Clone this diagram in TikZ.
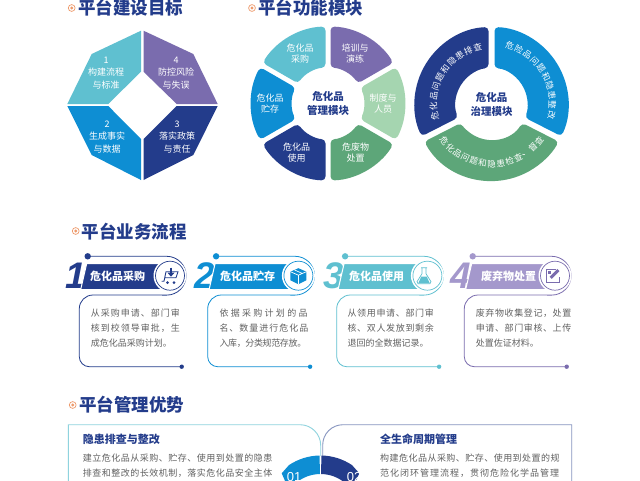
\documentclass[tikz,border=0pt]{standalone}
\usepackage{fontspec}
\setmainfont{Noto Sans CJK SC}
\newfontfamily\numfont{Liberation Sans}
\definecolor{cnavy}{HTML}{233C8B}
\definecolor{cblue}{HTML}{0E8ED3}
\definecolor{cteal}{HTML}{5FC0D0}
\definecolor{cpurple}{HTML}{7A6CAE}
\definecolor{cpurplelt}{HTML}{A498CC}
\definecolor{cgreen}{HTML}{5DA679}
\definecolor{cgreenlt}{HTML}{A5D5B0}
\definecolor{corange}{HTML}{EE9A6C}
\tikzset{
    headtxt/.style={anchor=west,inner sep=0,text=cnavy,font=\fontsize{17.5}{20}\selectfont\bfseries},
    whitetxt/.style={inner sep=0,text=white,font=\fontsize{9}{11}\selectfont},
    curvetxt/.style={inner sep=0,text=white,font=\fontsize{8.5}{10}\selectfont},
    hubtxt/.style={inner sep=0,text=cnavy,font=\fontsize{10.5}{14}\selectfont\bfseries,align=center},
    bandtxt/.style={anchor=west,inner sep=0,text=white,font=\fontsize{11}{13}\selectfont\bfseries},
    bodytxt/.style={anchor=west,inner sep=0,text=black!62,font=\fontsize{9}{11}\selectfont},
    subtxt/.style={anchor=west,inner sep=0,text=cnavy,font=\fontsize{11}{13}\selectfont\bfseries},
    numtxt/.style={inner sep=0,font=\fontsize{37}{37}\selectfont\numfont\bfseries\itshape},
}
\newcommand\spaced[2]{{\addfontfeature{LetterSpace=#1}#2}}
\newcommand\headmark[2]{
    \draw[corange,line width=.7](#1,#2)circle(3.4);
    \fill[corange](#1,#2)circle(1.6);
}
\newcommand\ringpart[6]{
    \pgfmathsetmacro\oa{#1+#6/#3*57.3}
    \pgfmathsetmacro\ob{#2-#6/#3*57.3}
    \pgfmathsetmacro\ia{#1+#6/#4*57.3}
    \pgfmathsetmacro\ib{#2-#6/#4*57.3}
    \fill[#5,rounded corners=4pt](\oa:#3)arc(\oa:\ob:#3)--(\ib:#4)arc(\ib:\ia:#4)--cycle;
}
\newcommand\flowcard[4]{
    \node[numtxt,text=#3](n#4) at (76,-276){#4};
    \fill[#3,draw=white,line width=1](80.7,-289.5)--(86.7,-263.5)--(165,-263.5)--(165,-289.5)--cycle;
    \draw[#2,line width=.8](87.7,-256.3)--(166.7,-256.3)arc(90:-90:19.4)--(93,-295)arc(90:180:13.7)--(79.3,-356.7)arc(180:270:10)--(181.7,-366.7);
    \fill[#3](87.7,-256.3)circle(3.2);
    \fill[#2](181.7,-366.7)circle(2.2);
    \fill[white](170,-275.7)circle(16.5);
    \draw[#2,line width=.7](170,-275.7)circle(14.5);
}
\begin{document}
\begin{tikzpicture}[x=1pt,y=1pt]
    \useasboundingbox(0,0)rectangle(640,-480);
    \fill[white](0,0)rectangle(640,-480);

    \headmark{71.7}{-8}
    \node[headtxt](h1) at (78,-8){平台建设目标};
    \fill[cteal](141,-30.7)--(91.7,-54)--(67.3,-104)--(108.3,-104)--(141,-71.7)--cycle;
    \fill[cpurple](143.5,-30.7)--(193.3,-54)--(217.7,-104)--(176.7,-104)--(143.5,-71.7)--cycle;
    \fill[cblue](141,-180)--(91.7,-155)--(67.3,-106)--(108.3,-106)--(141,-139)--cycle;
    \fill[cnavy](143.5,-180)--(193.3,-155)--(217.7,-106)--(176.7,-106)--(143.5,-139)--cycle;
    \node[whitetxt,align=center](g1) at (106,-73){1\\[1.5pt]构建流程\\[1.5pt]与标准};
    \node[whitetxt,align=center](g4) at (176,-73){4\\[1.5pt]防控风险\\[1.5pt]与失误};
    \node[whitetxt,align=center](g2) at (107,-137){2\\[1.5pt]生成事实\\[1.5pt]与数据};
    \node[whitetxt,align=center](g3) at (177,-137){3\\[1.5pt]落实政策\\[1.5pt]与责任};

    \headmark{252}{-8}
    \node[headtxt](h2) at (258,-8){平台功能模块};
    \begin{scope}[shift={(328,-103.5)}]
        \ringpart{90}{150}{77}{36}{cteal}{2.5}
        \ringpart{30}{90}{77}{36}{cpurple}{2.5}
        \ringpart{-30}{30}{77}{36}{cgreenlt}{2.5}
        \ringpart{-90}{-30}{77}{36}{cgreen}{2.5}
        \ringpart{-150}{-90}{77}{36}{cnavy}{2.5}
        \ringpart{150}{210}{77}{36}{cblue}{2.5}
        \node[hubtxt](m0) at (0,0){危化品\\管理模块};
    \end{scope}
    \node[whitetxt,align=center](m1) at (300,-53.5){危化品\\采购};
    \node[whitetxt,align=center](m2) at (355,-53.5){培训与\\演练};
    \node[whitetxt,align=center](m3) at (383,-104){制度与\\人员};
    \node[whitetxt,align=center](m4) at (355.7,-152.5){危废物\\处置};
    \node[whitetxt,align=center](m5) at (296.7,-152.5){危化品\\使用};
    \node[whitetxt,align=center](m6) at (270,-103.5){危化品\\贮存};

    \begin{scope}[shift={(491.5,-104)}]
        \ringpart{90}{207}{77}{36}{cnavy}{3}
        \ringpart{-27}{90}{77}{36}{cblue}{3}
        \ringpart{207}{333}{77}{36}{cgreen}{3}
        \node[hubtxt](z0) at (0,0){危化品\\治理模块};
        \foreach \c [count=\i from 0] in {危,化,品,问,题,和,隐,患,排,查}{
            \pgfmathsetmacro\ang{192-9.8*\i}
            \node[curvetxt,rotate=\ang-90](za\i) at (\ang:58){\c};
        }
        \foreach \c [count=\i from 0] in {危,险,品,问,题,和,隐,患,整,改}{
            \pgfmathsetmacro\ang{72.5-9.2*\i}
            \node[curvetxt,rotate=\ang-90](zb\i) at (\ang:61){\c};
        }
        \foreach \c [count=\i from 0] in {危,化,品,问,题,和,隐,患,检,查,、,督,查}{
            \pgfmathsetmacro\ang{218+8.7*\i}
            \node[curvetxt,rotate=\ang+90](zc\i) at (\ang:60){\c};
        }
    \end{scope}

    \headmark{75.7}{-231}
    \node[headtxt](h3) at (81.7,-231.5){平台业务流程};

    \flowcard{cnavy}{cnavy}{cnavy}{1}
    \node[bandtxt](t1) at (90,-276){危化品采购};
    \begin{scope}[shift={(170,-275.7)},cnavy,line width=.9]
        \draw(-8.5,-5.5)--(-6,-5.5)--(-4,4)--(8,4)--(6,-2)--(-5,-2);
        \fill(-2.5,-7)circle(1.5);
        \fill(4,-7)circle(1.5);
        \draw[line width=1.5](1,8)--(1,3);
        \fill(-2.5,3)--(4.5,3)--(1,-1)--cycle;
    \end{scope}
    \node[bodytxt](b1a) at (90.7,-312.7){\spaced{11}{从采购申请、部门审}};
    \node[bodytxt](b1b) at (90.7,-328.3){\spaced{11}{核到校领导审批，生}};
    \node[bodytxt](b1c) at (90.7,-343.3){成危化品采购计划。};

    \begin{scope}[shift={(128.4,0)}]
        \flowcard{cteal!60!cblue}{cblue}{cblue}{2}
        \node[bandtxt](t2) at (91.5,-276){危化品贮存};
        \begin{scope}[shift={(170,-275.7)}]
            \fill[cblue](-8,4)--(0,7.5)--(8,4)--(8,-4.5)--(0,-8.5)--(-8,-4.5)--cycle;
            \draw[white,line width=.7](-8,4)--(0,0.5)--(8,4)(0,.5)--(0,-8.5)(-4,5.8)--(4,2.2);
        \end{scope}
        \node[bodytxt](b2a) at (90.9,-312.7){\spaced{25.5}{依据采购计划的品}};
        \node[bodytxt](b2b) at (90.9,-328.3){\spaced{11}{名、数量进行危化品}};
        \node[bodytxt](b2c) at (90.9,-343.3){\spaced{-4}{入库，分类规范存放。}};
    \end{scope}

    \begin{scope}[shift={(257.4,0)}]
        \flowcard{cteal}{cteal}{cteal}{3}
        \node[bandtxt](t3) at (91.6,-276){危化品使用};
        \begin{scope}[shift={(166.6,-275.7)}]
            \fill[cteal](-5.7,-7.5)--(5.7,-7.5)--(2.8,-1)--(-2.8,-1)--cycle;
            \draw[cteal,line width=.7](-2,8)--(-2,2)--(-7,-6)--(-6,-8)--(6,-8)--(7,-6)--(2,2)--(2,8)(-3,8)--(3,8);
        \end{scope}
        \node[bodytxt](b3a) at (89.9,-312.7){\spaced{7.5}{从领用申请、部门审}};
        \node[bodytxt](b3b) at (89.9,-328.3){\spaced{7.5}{核、双人发放到剩余}};
        \node[bodytxt](b3c) at (89.9,-343.3){退回的全数据记录。};
    \end{scope}

    \begin{scope}[shift={(385,0)}]
        \flowcard{cpurple}{cpurple}{cpurplelt}{4}
        \node[bandtxt](t4) at (96,-276){废弃物处置};
        \begin{scope}[shift={(167.7,-275.7)},cpurple]
            \draw[line width=.8](3,6.5)--(-6.5,6.5)--(-6.5,-6.5)--(6.5,-6.5)--(6.5,-1);
            \fill[rotate=-45](-1.5,-3)rectangle(1.5,8);
            \fill(-4.5,4.5)rectangle(-2,2);
        \end{scope}
        \node[bodytxt](b4a) at (90.7,-312.7){\spaced{6.7}{废弃物收集登记，处置}};
        \node[bodytxt](b4b) at (90.7,-328.3){\spaced{6.7}{申请、部门审核、上传}};
        \node[bodytxt](b4c) at (90.7,-343.3){处置佐证材料。};
    \end{scope}

    \headmark{72.7}{-405}
    \node[headtxt](h4) at (79,-405){平台管理优势};
    \draw[cteal!70,line width=.9](68.3,-482)--(68.3,-424.7)--(300,-424.7)arc(90:0:20.7)--(320.7,-456);
    \draw[cnavy!55,line width=.9](571.7,-482)--(571.7,-424.7)--(343,-424.7)arc(90:180:20.3)--(322.7,-456);
    \node[subtxt](s1) at (82.7,-439.3){隐患排查与整改};
    \node[subtxt](s2) at (380,-439.3){全生命周期管理};
    \node[bodytxt](d1a) at (82.7,-457.7){\spaced{5.5}{建立危化品从采购、贮存、使用到处置的隐患}};
    \node[bodytxt](d1b) at (82.7,-472.7){\spaced{5.5}{排查和整改的长效机制，落实危化品安全主体}};
    \node[bodytxt](d2a) at (380,-457.7){\spaced{5.2}{构建危化品从采购、贮存、使用到处置的规}};
    \node[bodytxt](d2b) at (380,-472.7){\spaced{11}{范化闭环管理流程，贯彻危险化学品管理}};
    \foreach \s/\c in {1/cblue,-1/cnavy}{
        \begin{scope}[shift={(320.5,-512)},xscale=\s]
            \fill[\c](90.9:56.5)arc(90.9:124:56.5)--(-38.8,38.7)--(-35,30)--(-30,23)--(130:38)arc(130:90.9:38)--cycle;
        \end{scope}
    }
    \node[inner sep=0,text=white,font=\fontsize{13}{13}\selectfont\numfont](w1) at (294,-477.5){01};
    \node[inner sep=0,text=white,font=\fontsize{13}{13}\selectfont\numfont](w2) at (354,-477.5){02};
\end{tikzpicture}
\end{document}
